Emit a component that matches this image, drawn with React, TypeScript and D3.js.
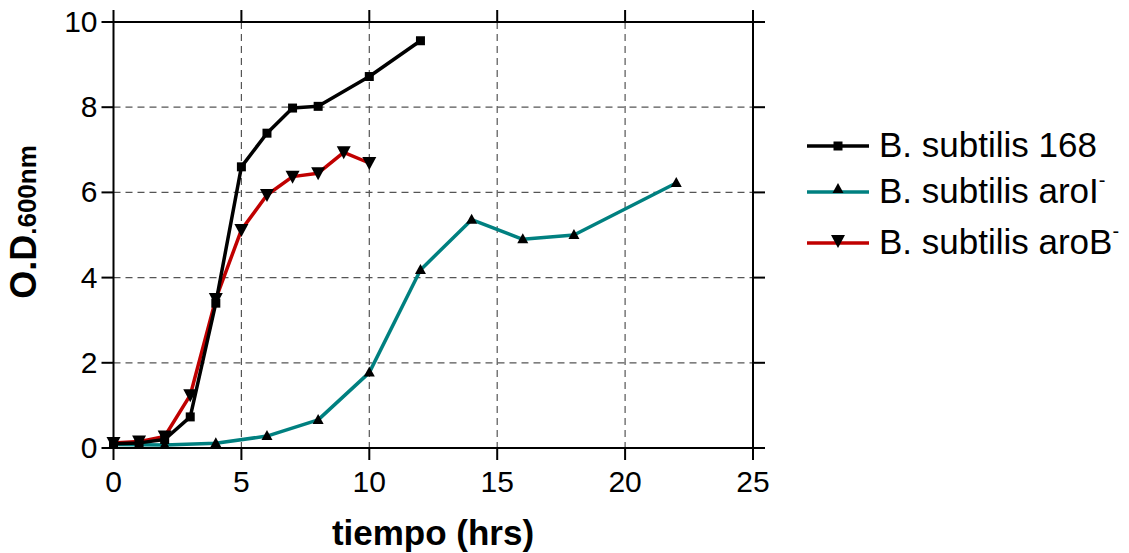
import React from 'react';
import * as d3 from 'd3';

// tiempo (hrs) / O.D.600nm
const x168 = [0, 1, 2, 3, 4, 5, 6, 7, 8, 10, 12];
const y168 = [0.1, 0.12, 0.2, 0.73, 3.4, 6.6, 7.39, 7.98, 8.02, 8.72, 9.56];

const xAroI = [0, 2, 4, 6, 8, 10, 12, 14, 16, 18, 22];
const yAroI = [0.08, 0.07, 0.11, 0.28, 0.66, 1.77, 4.18, 5.36, 4.9, 5.0, 6.22];

const xAroB = [0, 1, 2, 3, 4, 5, 6, 7, 8, 9, 10];
const yAroB = [0.12, 0.15, 0.27, 1.24, 3.5, 5.12, 5.94, 6.37, 6.45, 6.94, 6.69];

const xTicks = [0, 5, 10, 15, 20, 25];
const yTicks = [0, 2, 4, 6, 8, 10];

const W = 1129;
const H = 553;
const FONT = '"Liberation Sans", Arial, sans-serif';

type Marker = 'square' | 'tri' | 'tridown';

const series = [
  { name: 'B. subtilis 168', sup: '', xs: x168, ys: y168, color: '#000000', marker: 'square' as Marker },
  { name: 'B. subtilis aroI', sup: '-', xs: xAroI, ys: yAroI, color: '#008080', marker: 'tri' as Marker },
  { name: 'B. subtilis aroB', sup: '-', xs: xAroB, ys: yAroB, color: '#c00000', marker: 'tridown' as Marker },
];
const legendY = [146, 192, 243];
// drawing order: teal, red, then black on top
const drawOrder = [1, 2, 0];

const markerPath = (m: Marker) => {
  if (m === 'square') return 'M-4.5,-4.5H4.5V4.5H-4.5Z';
  if (m === 'tri') return 'M0,-6L5.5,4L-5.5,4Z';
  return 'M0,7L-7,-6L7,-6Z';
};

export default function App() {
  const x = d3.scaleLinear().domain([0, 25]).range([113.5, 753]);
  const y = d3.scaleLinear().domain([0, 10]).range([448, 22]);
  const line = d3.line<[number, number]>().x(d => x(d[0])).y(d => y(d[1]));
  const [x0, x1] = x.range();
  const [y0, y1] = y.range();
  const tickLen = 12;

  return (
    <svg width={W} height={H} style={{ position: 'absolute', left: 0, top: 0 }} fontFamily={FONT}>
      <rect width={W} height={H} fill="#fff" />
      {/* grid */}
      {xTicks.slice(1, -1).map(t => (
        <line key={'gx' + t} x1={x(t)} x2={x(t)} y1={y1} y2={y0} stroke="#555" strokeWidth={1.2} strokeDasharray="7,5" />
      ))}
      {yTicks.slice(1, -1).map(t => (
        <line key={'gy' + t} x1={x0} x2={x1} y1={y(t)} y2={y(t)} stroke="#555" strokeWidth={1.2} strokeDasharray="7,5" />
      ))}
      {/* frame */}
      <rect x={x0} y={y1} width={x1 - x0} height={y0 - y1} fill="none" stroke="#000" strokeWidth={2} />
      {xTicks.map(t => (
        <g key={'tx' + t}>
          <line x1={x(t)} x2={x(t)} y1={y0} y2={y0 + tickLen} stroke="#000" strokeWidth={2} />
          <line x1={x(t)} x2={x(t)} y1={y1} y2={y1 - tickLen} stroke="#000" strokeWidth={2} />
          <text x={x(t)} y={y0 + 44} textAnchor="middle" fontSize={30}>{t}</text>
        </g>
      ))}
      {yTicks.map(t => (
        <g key={'ty' + t}>
          <line x1={x0} x2={x0 - tickLen} y1={y(t)} y2={y(t)} stroke="#000" strokeWidth={2} />
          <line x1={x1} x2={x1 + tickLen} y1={y(t)} y2={y(t)} stroke="#000" strokeWidth={2} />
          <text x={x0 - 16} y={y(t) + 10} textAnchor="end" fontSize={30}>{t}</text>
        </g>
      ))}
      {/* series */}
      {drawOrder.map(k => {
        const s = series[k];
        const pts = s.xs.map((v, i) => [v, s.ys[i]] as [number, number]);
        return (
          <g key={s.name}>
            <path d={line(pts) || ''} fill="none" stroke={s.color} strokeWidth={3.5} strokeLinejoin="round" />
            {pts.map((p, i) => (
              <path key={i} d={markerPath(s.marker)} transform={`translate(${x(p[0])},${y(p[1])})`} fill="#000" />
            ))}
          </g>
        );
      })}
      {/* axis titles */}
      <text x={433} y={545} textAnchor="middle" fontSize={35} fontWeight="bold">tiempo (hrs)</text>
      <text transform="translate(36,222) rotate(-90)" textAnchor="middle" fontWeight="bold" fontSize={36}>
        O.D<tspan fontSize={26}>.600nm</tspan>
      </text>
      {/* legend */}
      {series.map((s, i) => {
        const ly = legendY[i];
        return (
          <g key={'lg' + s.name}>
            <line x1={807} x2={869} y1={ly} y2={ly} stroke={s.color} strokeWidth={3.5} />
            <path d={markerPath(s.marker)} transform={`translate(838,${s.marker === 'tridown' ? ly - 2 : s.marker === 'tri' ? ly - 3 : ly})`} fill="#000" />
            <text x={879} y={ly + 11} fontSize={35}>
              {s.name}
              {s.sup && <tspan fontSize={20} dy={-16}>{s.sup}</tspan>}
            </text>
          </g>
        );
      })}
    </svg>
  );
}
